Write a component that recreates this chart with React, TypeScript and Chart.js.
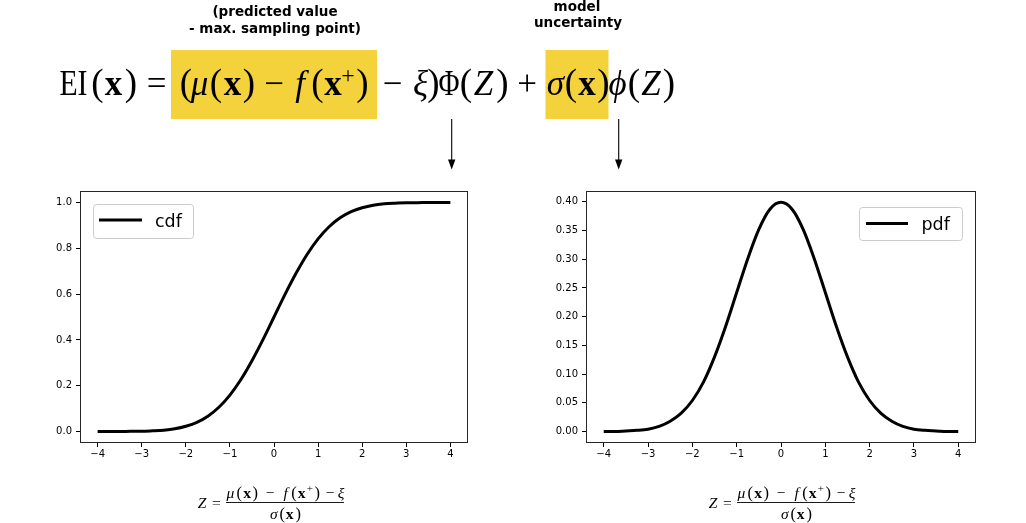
import React, { useEffect, useRef } from "react";
import { Chart, registerables } from "chart.js";

Chart.register(...registerables);

// ---------- data ----------
const zValues = [
  -4, -3.75, -3.5, -3.25, -3, -2.75, -2.5, -2.25, -2, -1.75, -1.5, -1.25, -1, -0.75, -0.5, -0.25,
  0, 0.25, 0.5, 0.75, 1, 1.25, 1.5, 1.75, 2, 2.25, 2.5, 2.75, 3, 3.25, 3.5, 3.75, 4,
];
const cdfValues = [
  0.0, 0.0, 0.0, 0.001, 0.001, 0.003, 0.006, 0.012, 0.023, 0.04, 0.067, 0.106, 0.159, 0.227, 0.309, 0.401,
  0.5, 0.599, 0.691, 0.773, 0.841, 0.894, 0.933, 0.96, 0.977, 0.988, 0.994, 0.997, 0.999, 0.999, 1.0, 1.0, 1.0,
];
const pdfValues = [
  0.0, 0.0, 0.001, 0.002, 0.004, 0.009, 0.018, 0.032, 0.054, 0.086, 0.13, 0.183, 0.242, 0.301, 0.352, 0.387,
  0.399, 0.387, 0.352, 0.301, 0.242, 0.183, 0.13, 0.086, 0.054, 0.032, 0.018, 0.009, 0.004, 0.002, 0.001, 0.0, 0.0,
];
const xTicks = [-4, -3, -2, -1, 0, 1, 2, 3, 4];
const cdfTicks = [0, 0.2, 0.4, 0.6, 0.8, 1.0];
const pdfTicks = [0, 0.05, 0.1, 0.15, 0.2, 0.25, 0.3, 0.35, 0.4];
const cdfLabel = "cdf";
const pdfLabel = "pdf";
const noteLeft = ["(predicted value", "- max. sampling point)"];
const noteRight = ["model", "uncertainty"];

// ---------- layout of the formula glyphs (text, inkLeft, inkRight, kind) ----------
type Tok = [string, number, number, string];
const eqTokens: Tok[] = [
  ["EI", 60, 87, "R"], ["(", 93, 102, "p"], ["x", 104, 123, "b"], [")", 127, 135, "p"],
  ["=", 148, 165, "r"], ["(", 182, 190, "p"], ["μ", 192, 207, "i"], ["(", 212, 220, "p"],
  ["x", 223, 242, "b"], [")", 245, 253, "p"], ["−", 263, 285, "r"], ["f", 292, 308, "i"],
  ["(", 313, 322, "p"], ["x", 324, 342, "b"], ["+", 343, 353, "s"], [")", 358, 367, "p"],
  ["−", 383, 402, "r"], ["ξ", 413, 428, "i"], [")", 430, 437, "p"], ["Φ", 439, 459, "R"],
  ["(", 462, 470, "p"], ["Z", 472, 495, "i"], [")", 498, 507, "p"], ["+", 517, 537, "r"],
  ["σ", 548, 563, "i"], ["(", 567, 575, "p"], ["x", 577, 597, "b"], [")", 600, 607, "p"],
  ["ϕ", 610, 625, "i"], ["(", 630, 638, "p"], ["Z", 640, 662, "i"], [")", 665, 673, "p"],
];
// xlabel: [text, inkLeft, inkRight, kind, row] row: z | n | d
type XTok = [string, number, number, string, string];
const xlabTokens: XTok[] = [
  ["Z", 196, 208, "i", "z"], ["=", 211.5, 221, "r", "z"],
  ["μ", 226, 235, "i", "n"], ["(", 237, 241.5, "p", "n"], ["x", 242.5, 251.5, "b", "n"], [")", 253, 257.5, "p", "n"],
  ["−", 265, 275, "r", "n"], ["f", 281.5, 290, "i", "n"], ["(", 291.5, 296.5, "p", "n"], ["x", 297, 306, "b", "n"],
  ["+", 306.5, 313, "s", "n"], [")", 315, 319.5, "p", "n"], ["−", 325, 335, "r", "n"], ["ξ", 338, 344, "i", "n"],
  ["σ", 269.5, 278, "i", "d"], ["(", 280, 284.5, "p", "d"], ["x", 285, 294, "b", "d"], [")", 296, 300.5, "p", "d"],
];

const SERIF = '"Liberation Serif", "DejaVu Serif", serif';
const SANS = '"DejaVu Sans", sans-serif';

const fmtX = (v: number) => (v < 0 ? "\u2212" + Math.abs(v) : String(v));

const framePlugin = {
  id: "frameLegend",
  afterDraw(chart: any, _args: any, opts: any) {
    const { ctx, chartArea } = chart;
    const { left, top, right, bottom } = chartArea;
    ctx.save();
    ctx.strokeStyle = "#262626";
    ctx.lineWidth = 1;
    ctx.strokeRect(Math.round(left) + 0.5, Math.round(top) + 0.5, Math.round(right - left) - 1, Math.round(bottom - top) - 1);
    const b = opts.box;
    if (b) {
      const r = 3;
      ctx.beginPath();
      ctx.moveTo(b.x + r, b.y);
      ctx.lineTo(b.x + b.w - r, b.y);
      ctx.quadraticCurveTo(b.x + b.w, b.y, b.x + b.w, b.y + r);
      ctx.lineTo(b.x + b.w, b.y + b.h - r);
      ctx.quadraticCurveTo(b.x + b.w, b.y + b.h, b.x + b.w - r, b.y + b.h);
      ctx.lineTo(b.x + r, b.y + b.h);
      ctx.quadraticCurveTo(b.x, b.y + b.h, b.x, b.y + b.h - r);
      ctx.lineTo(b.x, b.y + r);
      ctx.quadraticCurveTo(b.x, b.y, b.x + r, b.y);
      ctx.closePath();
      ctx.fillStyle = "rgba(255,255,255,0.8)";
      ctx.fill();
      ctx.strokeStyle = "#cccccc";
      ctx.lineWidth = 1;
      ctx.stroke();
      ctx.beginPath();
      ctx.moveTo(b.lx1, b.ly);
      ctx.lineTo(b.lx2, b.ly);
      ctx.strokeStyle = "#000";
      ctx.lineWidth = 3;
      ctx.stroke();
      ctx.fillStyle = "#000";
      ctx.font = `17.5px ${SANS}`;
      ctx.textBaseline = "alphabetic";
      ctx.textAlign = "left";
      ctx.fillText(chart.data.datasets[0].label, b.tx, b.ty);
    }
    ctx.restore();
  },
};

function makeConfig(
  values: number[],
  label: string,
  yTicks: number[],
  yMin: number,
  yMax: number,
  decimals: number,
  yWidth: number,
  rightPad: number,
  box: any
): any {
  return {
    type: "line",
    data: {
      datasets: [
        {
          label,
          data: zValues.map((x, i) => ({ x, y: values[i] })),
          borderColor: "#000",
          borderWidth: 3,
          pointRadius: 0,
          fill: false,
          cubicInterpolationMode: "monotone",
        },
      ],
    },
    options: {
      responsive: false,
      animation: false,
      events: [],
      layout: { padding: { top: 11, right: rightPad, left: 0, bottom: 0 } },
      plugins: { legend: { display: false }, tooltip: { enabled: false }, frameLegend: { box } },
      scales: {
        x: {
          type: "linear",
          min: -4.4,
          max: 4.4,
          afterBuildTicks: (s: any) => {
            s.ticks = xTicks.map((v) => ({ value: v }));
          },
          afterFit: (s: any) => {
            s.height = 37;
          },
          ticks: {
            callback: (v: number) => fmtX(v),
            font: { family: SANS, size: 10 },
            color: "#000",
            padding: 1,
            maxRotation: 0,
            autoSkip: false,
          },
          grid: { drawOnChartArea: false, drawTicks: true, tickLength: 4, color: "#000", lineWidth: 1 },
          border: { display: false },
        },
        y: {
          type: "linear",
          min: yMin,
          max: yMax,
          afterBuildTicks: (s: any) => {
            s.ticks = yTicks.map((v) => ({ value: v }));
          },
          afterFit: (s: any) => {
            s.width = yWidth;
          },
          ticks: {
            callback: (v: number) => Number(v).toFixed(decimals),
            font: { family: SANS, size: 10 },
            color: "#000",
            padding: 4,
            autoSkip: false,
          },
          grid: { drawOnChartArea: false, drawTicks: true, tickLength: 4, color: "#000", lineWidth: 1 },
          border: { display: false },
        },
      },
    },
    plugins: [framePlugin],
  };
}

function ChartCanvas(props: { left: number; top: number; width: number; height: number; config: () => any }) {
  const ref = useRef<HTMLCanvasElement | null>(null);
  useEffect(() => {
    if (!ref.current) return;
    const chart = new Chart(ref.current, props.config());
    return () => chart.destroy();
  }, []);
  return (
    <canvas
      ref={ref}
      width={props.width}
      height={props.height}
      style={{ position: "absolute", left: props.left, top: props.top, width: props.width, height: props.height }}
    />
  );
}

function tokStyle(kind: string, big: boolean) {
  const base = big ? 35 : 15.5;
  if (kind === "p") return { fontSize: big ? 37 : 16.5, fontStyle: "normal", fontWeight: "normal" };
  if (kind === "i") return { fontSize: base, fontStyle: "italic", fontWeight: "normal" };
  if (kind === "b") return { fontSize: base, fontStyle: "normal", fontWeight: "bold" };
  if (kind === "s") return { fontSize: big ? 24 : 11, fontStyle: "normal", fontWeight: "normal" };
  return { fontSize: base, fontStyle: "normal", fontWeight: "normal" };
}

function Glyph(props: { t: string; x0: number; x1: number; y: number; kind: string; big: boolean }) {
  const s = tokStyle(props.kind, props.big);
  const fit = props.kind === "R";
  return (
    <text
      x={fit ? props.x0 - 0.5 : (props.x0 + props.x1) / 2}
      y={props.y}
      textAnchor={fit ? "start" : "middle"}
      textLength={fit ? props.x1 - props.x0 + 1 : undefined}
      lengthAdjust={fit ? "spacingAndGlyphs" : undefined}
      fontFamily={SERIF}
      fontSize={s.fontSize}
      fontStyle={s.fontStyle}
      fontWeight={s.fontWeight}
      fill="#000"
    >
      {props.t}
    </text>
  );
}

function XLabel(props: { dx: number }) {
  const rowY: Record<string, number> = { z: 507.5, n: 497.5, d: 518.5 };
  return (
    <g>
      {xlabTokens.map((t, i) => (
        <Glyph
          key={i}
          t={t[0]}
          x0={t[1] + props.dx}
          x1={t[2] + props.dx}
          y={t[3] === "s" ? rowY[t[4]] - 5.5 : rowY[t[4]]}
          kind={t[3]}
          big={false}
        />
      ))}
      <line x1={226 + props.dx} x2={344 + props.dx} y1={502.5} y2={502.5} stroke="#000" strokeWidth={0.9} />
    </g>
  );
}

export default function App() {
  return (
    <div style={{ position: "fixed", left: 0, top: 0, width: 1026, height: 523, background: "#fff", overflow: "hidden" }}>
      <ChartCanvas
        left={0}
        top={180}
        width={490}
        height={300}
        config={() =>
          makeConfig(cdfValues, cdfLabel, cdfTicks, -0.05, 1.05, 1, 80, 22, {
            x: 93.5, y: 24.5, w: 100, h: 34, lx1: 99, lx2: 142, ly: 40, tx: 155, ty: 46.5,
          })
        }
      />
      <ChartCanvas
        left={500}
        top={180}
        width={500}
        height={300}
        config={() =>
          makeConfig(pdfValues, pdfLabel, pdfTicks, -0.02, 0.4188, 2, 86, 24, {
            x: 359.5, y: 27.5, w: 103, h: 33, lx1: 366, lx2: 408, ly: 43.5, tx: 421.5, ty: 50,
          })
        }
      />
      <svg
        width={1026}
        height={523}
        style={{ position: "absolute", left: 0, top: 0, pointerEvents: "none" }}
      >
        <rect x={171} y={50} width={206} height={69} fill="#F3D23B" />
        <rect x={545.5} y={50} width={63} height={69} fill="#F3D23B" />
        {eqTokens.map((t, i) => (
          <Glyph key={i} t={t[0]} x0={t[1]} x1={t[2]} y={t[3] === "s" ? 82.5 : 95} kind={t[3]} big={true} />
        ))}
        <g fontFamily={SANS} fontWeight="bold" fontSize={13.5} textAnchor="middle" fill="#000">
          <text x={275} y={16}>{noteLeft[0]}</text>
          <text x={275} y={32.5}>{noteLeft[1]}</text>
          <text x={577} y={10.5}>{noteRight[0]}</text>
          <text x={578} y={26.5}>{noteRight[1]}</text>
        </g>
        <g stroke="#000" strokeWidth={1.1}>
          <line x1={451.7} x2={451.7} y1={119} y2={161} />
          <line x1={618.7} x2={618.7} y1={119} y2={161} />
        </g>
        <polygon points="448,159.5 455.4,159.5 451.7,169.5" fill="#000" />
        <polygon points="615,159.5 622.4,159.5 618.7,169.5" fill="#000" />
        <XLabel dx={0} />
        <XLabel dx={511} />
      </svg>
    </div>
  );
}
